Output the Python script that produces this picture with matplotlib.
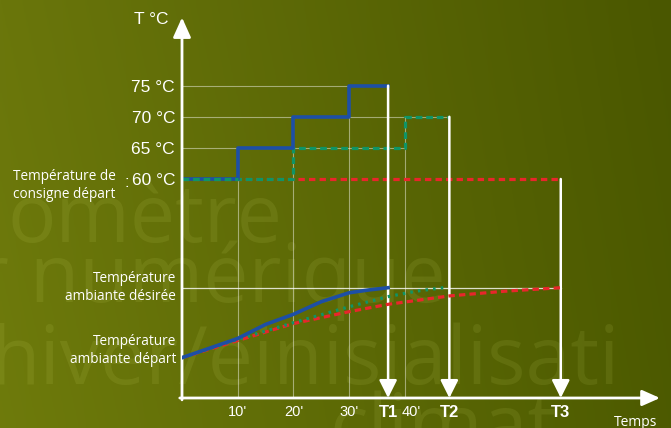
import numpy as np
import matplotlib
matplotlib.use("Agg")
import matplotlib.pyplot as plt
import matplotlib.transforms as mtransforms

# --- donnees ---
# temperature de depart (consigne) en fonction du temps (minutes)
bleu_t = [0, 10, 20, 30, 37]
bleu_dep = [60, 65, 70, 75, 75]
vert_t = [0, 20, 40, 48]
vert_dep = [60, 65, 70, 70]
rouge_t = [0, 68]
rouge_dep = [60, 60]

# temperature ambiante (echelle arbitraire : depart 16, desiree 20)
amb_depart = 16
amb_desiree = 20
bleu_amb_t = [0, 5, 10, 15, 20, 25, 30, 33.5, 37]
bleu_amb = [16.0, 16.55, 17.1, 17.9, 18.48, 19.2, 19.71, 19.87, 20.0]
vert_amb_t = [0, 10, 20, 30, 37, 42, 47]
vert_amb = [16.0, 17.05, 18.0, 18.91, 19.49, 19.8, 20.0]
rouge_amb_t = [0, 10, 20, 30, 37, 48, 58, 68]
rouge_amb = [16.0, 16.98, 17.95, 18.63, 19.05, 19.53, 19.8, 20.0]

T_noms = ["T1", "T2", "T3"]
T_vals = [37, 48, 68]
T_depart = [75, 70, 60]
minutes = [10, 20, 30, 40]
min_labels = ["10'", "20'", "30'", "40'"]
paliers = [60, 65, 70, 75]
palier_labels = ["60 °C", "65 °C", "70 °C", "75 °C"]

BLEU = "#1d4fa6"
VERT = "#0f9466"
ROUGE = "#e8262b"
GRILLE = (1, 1, 1, 0.45)

W, H = 671, 428
fig = plt.figure(figsize=(W / 100, H / 100), dpi=100)

# fond degrade olive
bg = fig.add_axes([0, 0, 1, 1], zorder=0)
gx = np.linspace(0, 1, 256)
gy = np.linspace(0, 1, 64)
X, Y = np.meshgrid(gx, gy)
c_gauche = np.array([106, 118, 11]) / 255
c_droite = np.array([74, 87, 0]) / 255
img = c_gauche[None, None, :] * (1 - X[..., None]) + c_droite[None, None, :] * X[..., None]
img = img * (1 + 0.04 * Y[..., None])
bg.imshow(np.clip(img, 0, 1), extent=[0, 1, 0, 1], aspect="auto", origin="upper")
bg.set_xlim(0, 1)
bg.set_ylim(0, 1)
bg.axis("off")

# texte en filigrane
def px(x, y):
    return x / W, 1 - y / H

filig = dict(color=(0.85, 0.9, 0.45, 0.10), fontsize=58, family="Open Sans",
             ha="left", va="baseline", zorder=1)
bg.text(*px(8, 242), "omètre", **filig)
bg.text(*px(-24, 302), "r numérique", **filig)
bg.text(*px(-10, 384), "hiver/einisialisati", **filig)
bg.text(*px(330, 452), "climat", **filig)

# axe principal
x0, x1 = 182, 660
y0, y1 = 398, 15
ax = fig.add_axes([x0 / W, (H - y0) / H, (x1 - x0) / W, (y0 - y1) / H], zorder=2)
ax.set_facecolor("none")
xmax = (x1 - x0) / 5.57
ax.set_xlim(0, xmax)
pxc = 6.22
ybas = 60 - (y0 - 179) / pxc
yhaut = 60 + (179 - y1) / pxc
ax.set_ylim(ybas, yhaut)
for s in ax.spines.values():
    s.set_visible(False)

ax2 = ax.twinx()
ax2.set_facecolor("none")
pxa = 17.5
ax2.set_ylim(16 - (y0 - 357.7) / pxa, 16 + (357.7 - y1) / pxa)
ax2.set_yticks([])
for s in ax2.spines.values():
    s.set_visible(False)

# grille
fin_h = [40, 48, 37]
for p, f in zip(paliers[1:], fin_h):
    ax.plot([0, f], [p, p], color=GRILLE, lw=0.8, zorder=1)
haut_v = [65, 70, 75, 70]
for m, h in zip(minutes, haut_v):
    ax.plot([m, m], [ybas, h], color=GRILLE, lw=0.8, zorder=1)
ax2.plot([0, T_vals[2]], [amb_desiree, amb_desiree], color=(1, 1, 1, 0.8), lw=0.9, zorder=1)

# courbes de depart
ax.plot(rouge_t, rouge_dep, color=ROUGE, lw=2.3, dashes=(2.0, 1.3), zorder=3)
ax.plot(vert_t, vert_dep, color=VERT, lw=2.3, dashes=(2.1, 1.2), drawstyle="steps-post", zorder=4)
ax.plot(bleu_t, bleu_dep, color=BLEU, lw=2.6, drawstyle="steps-post", zorder=5)
ax.plot([0, 10], [60, 60], color=VERT, lw=2.3, dashes=(2.1, 1.2), zorder=6)

# courbes ambiantes
ax2.plot(rouge_amb_t, rouge_amb, color=ROUGE, lw=2.3, dashes=(2.0, 1.3), zorder=3)
ax2.plot(vert_amb_t, vert_amb, color=VERT, lw=2.3, dashes=(0.8, 1.6), zorder=4)
ax2.plot(bleu_amb_t, bleu_amb, color=BLEU, lw=2.6, zorder=5)

# fleches T1 T2 T3
for t, d in zip(T_vals, T_depart):
    ax.annotate("", xy=(t, ybas), xytext=(t, d),
                arrowprops=dict(arrowstyle="-|>,head_width=0.45,head_length=0.9",
                                color="white", lw=1.8, shrinkA=0, shrinkB=0,
                                mutation_scale=12), zorder=7)

# axes fleches
ax.annotate("", xy=(xmax, ybas), xytext=(-0.4, ybas),
            arrowprops=dict(arrowstyle="-|>,head_width=0.4,head_length=0.9",
                            color="white", lw=2, shrinkA=0, shrinkB=0, mutation_scale=12),
            annotation_clip=False, zorder=8)
ax.annotate("", xy=(0, yhaut - 0.4), xytext=(0, ybas - 0.3),
            arrowprops=dict(arrowstyle="-|>,head_width=0.45,head_length=1.0",
                            color="white", lw=2, shrinkA=0, shrinkB=0, mutation_scale=12),
            annotation_clip=False, zorder=8)

# graduations
ax.set_yticks(paliers, labels=palier_labels)
ax.tick_params(axis="y", length=0, pad=5, labelsize=12.5, labelcolor="white")
for lab in ax.get_yticklabels():
    lab.set_family("Liberation Sans")

xt = minutes + T_vals
xl = min_labels + T_noms
ax.set_xticks(xt, labels=xl)
ax.tick_params(axis="x", length=0, pad=5, labelsize=10.5, labelcolor="white")
for lab in ax.get_xticklabels():
    lab.set_family("Liberation Sans")
    if lab.get_text().startswith("T"):
        lab.set_fontweight("bold")
        lab.set_fontsize(12)
    if lab.get_text() == "40'":
        lab.set_transform(lab.get_transform() + mtransforms.ScaledTranslation(6 / 100, 0, fig.dpi_scale_trans))

# textes
ax.text(0, 1, "T °C", transform=ax.transAxes + mtransforms.ScaledTranslation(-13 / 100, -4 / 100, fig.dpi_scale_trans),
        ha="right", va="center", color="white", fontsize=12.5, family="Liberation Sans")
ax.text(81.5, ybas, "Temps", ha="center", va="center", color="white", fontsize=10,
        family="Open Sans", transform=ax.transData + mtransforms.ScaledTranslation(0, -25 / 100, fig.dpi_scale_trans))

lbl = dict(color="white", fontsize=9.8, family="Open Sans", linespacing=1.3)
trans_fig = mtransforms.blended_transform_factory(fig.transFigure, ax.transData)
ax.text(13 / W, 60, "Température de\nconsigne départ", ha="left", va="top",
        transform=trans_fig + mtransforms.ScaledTranslation(0, 10 / 100, fig.dpi_scale_trans), **lbl)
ax.text(127 / W, 60, ":", ha="center", va="center", color="white",
        fontsize=12, family="Liberation Sans",
        transform=trans_fig + mtransforms.ScaledTranslation(0, -3 / 100, fig.dpi_scale_trans))
off = mtransforms.ScaledTranslation(-6 / 100, 0, fig.dpi_scale_trans)
ax2.text(0, amb_desiree, "Température\nambiante désirée", transform=ax2.transData + off,
         ha="right", va="center", **lbl)
ax2.text(0, amb_depart, "Température\nambiante départ",
         transform=ax2.transData + mtransforms.ScaledTranslation(-6 / 100, 7 / 100, fig.dpi_scale_trans),
         ha="right", va="center", **lbl)

fig.savefig("out.png", dpi=100)
